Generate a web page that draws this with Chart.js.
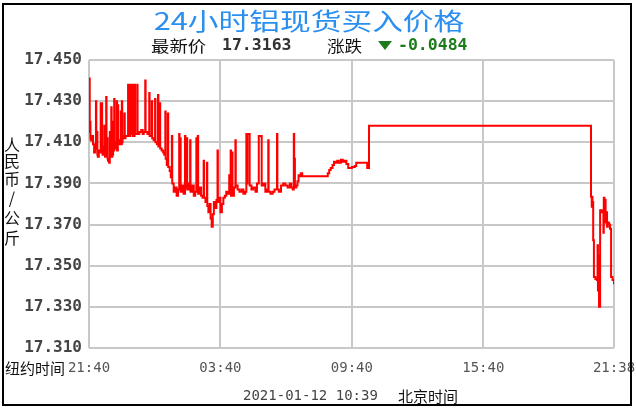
<!DOCTYPE html>
<html>
<head>
<meta charset="utf-8">
<script src="https://cdn.jsdelivr.net/npm/chart.js@4/dist/chart.umd.min.js"></script>
<style>
html, body { margin: 0; padding: 0; background: #fff; }
</style>
</head>
<body>
<canvas id="chart" width="636" height="410"></canvas>
<script>
// minutes after 21:40 (New York time), split into stretches of the day
const nightTimes = [0, 2, 3, 4, 5, 8, 11, 14, 17, 19, 20, 22, 23, 24, 27, 30, 32, 33, 35, 36,
  37, 40, 42, 43, 44, 47, 48, 50, 51, 52, 55, 57, 58, 61, 62, 64, 65, 66, 69, 70,
  73, 76, 77, 79, 80, 84, 87, 88, 90, 91, 92, 95, 97, 98, 100];
const nightPrices = [17.441, 17.415, 17.420, 17.412, 17.411, 17.413, 17.409, 17.405, 17.407, 17.430, 17.407, 17.415, 17.404, 17.403, 17.406, 17.405, 17.429, 17.406, 17.429, 17.405,
  17.404, 17.408, 17.418, 17.404, 17.403, 17.432, 17.405, 17.412, 17.402, 17.401, 17.400, 17.415, 17.404, 17.427, 17.403, 17.420, 17.404, 17.406, 17.431, 17.410,
  17.407, 17.430, 17.406, 17.428, 17.411, 17.409, 17.425, 17.409, 17.430, 17.410, 17.413, 17.412, 17.424, 17.412, 17.413];

const earlyTimes = [107, 108, 109, 110, 111, 112, 113, 114, 116, 117, 119, 120, 122, 123, 125, 126, 130, 132, 133, 138,
  143, 147, 150, 154, 155, 160, 165, 166, 170, 172, 173, 177, 181, 182, 186, 189, 190, 194, 195, 199,
  203, 206, 209, 210, 213, 216, 217, 221, 224, 227, 228, 232, 236, 240, 244, 247, 248, 250, 251, 255,
  259, 263, 264, 268, 269, 273, 277, 278, 282, 287, 291, 294, 295, 298, 299, 303, 307, 311, 314, 315,
  319, 323, 324, 327, 330, 333, 336, 339, 342, 345, 349, 352, 353];
const earlyPrices = [17.438, 17.413, 17.438, 17.414, 17.438, 17.413, 17.438, 17.414, 17.438, 17.414, 17.438, 17.413, 17.438, 17.413, 17.438, 17.414, 17.414, 17.438, 17.414, 17.415,
  17.416, 17.414, 17.415, 17.440, 17.415, 17.414, 17.434, 17.413, 17.413, 17.430, 17.412, 17.411, 17.431, 17.410, 17.409, 17.433, 17.408, 17.429, 17.407, 17.406,
  17.405, 17.404, 17.425, 17.402, 17.399, 17.424, 17.398, 17.396, 17.393, 17.413, 17.390, 17.386, 17.388, 17.384, 17.387, 17.414, 17.387, 17.412, 17.386, 17.389,
  17.385, 17.413, 17.388, 17.412, 17.387, 17.390, 17.411, 17.386, 17.389, 17.384, 17.386, 17.412, 17.386, 17.413, 17.385, 17.388, 17.384, 17.383, 17.401, 17.383,
  17.381, 17.400, 17.379, 17.376, 17.380, 17.373, 17.369, 17.375, 17.381, 17.378, 17.382, 17.406, 17.381];

const dayTimes = [356, 360, 364, 368, 372, 376, 380, 384, 385, 388, 389, 392, 393, 397, 401, 402, 407, 412, 418, 423,
  428, 431, 433, 434, 440, 445, 450, 456, 460, 465, 473, 478, 483, 488, 491, 492, 497, 503, 508, 515,
  516, 520, 526, 532, 538, 544, 550, 554, 558, 561, 562, 564, 568, 571, 574, 577, 580, 584, 650, 654,
  658, 662, 667, 671, 676, 680, 684, 690, 695, 700, 705, 710, 720, 728, 732, 744, 757, 762, 767];
const dayPrices = [17.383, 17.376, 17.380, 17.383, 17.384, 17.386, 17.385, 17.394, 17.385, 17.406, 17.384, 17.405, 17.384, 17.388, 17.411, 17.389, 17.387, 17.386, 17.387, 17.385,
  17.386, 17.414, 17.390, 17.414, 17.389, 17.387, 17.388, 17.386, 17.390, 17.413, 17.389, 17.390, 17.386, 17.387, 17.411, 17.386, 17.385, 17.386, 17.387, 17.414,
  17.387, 17.386, 17.389, 17.390, 17.389, 17.388, 17.390, 17.388, 17.387, 17.414, 17.402, 17.388, 17.389, 17.391, 17.394, 17.3935, 17.395, 17.3935, 17.3935, 17.395,
  17.3965, 17.3975, 17.399, 17.4005, 17.400, 17.401, 17.400, 17.4015, 17.4005, 17.401, 17.3995, 17.3975, 17.398, 17.3985, 17.400, 17.400, 17.400, 17.3975, 17.418];

const lateTimes = [1374, 1375, 1377, 1378, 1379, 1381, 1383, 1387, 1391, 1393, 1394, 1395, 1397, 1399, 1400, 1403, 1407, 1409, 1410, 1412,
  1413, 1415, 1417, 1419, 1421, 1424, 1427, 1430, 1434, 1438];
const latePrices = [17.418, 17.3835, 17.3787, 17.3835, 17.381, 17.3624, 17.3445, 17.3435, 17.343, 17.360, 17.338, 17.355, 17.330, 17.330, 17.377, 17.376, 17.377, 17.366, 17.383, 17.372,
  17.382, 17.371, 17.376, 17.369, 17.371, 17.370, 17.368, 17.3445, 17.343, 17.341];

const xTickPos = [0, 360, 720, 1080, 1438];
const xTickLabels = ['21:40', '03:40', '09:40', '15:40', '21:38'];
const yTicks = [17.310, 17.330, 17.350, 17.370, 17.390, 17.410, 17.430, 17.450];

const titleText = '24小时铝现货买入价格';
const latestLabel = '最新价';
const latestValue = '17.3163';
const changeLabel = '涨跌';
const changeValue = '-0.0484';
const yAxisChars = ['人', '民', '币', '/', '公', '斤'];
const nyLabel = '纽约时间';
const dateText = '2021-01-12 10:39';
const bjLabel = '北京时间';

const CJK = '"Noto Sans CJK SC"';
const MONO = '"DejaVu Sans Mono"';

function putText(ctx, text, x, y, font, color, align, sx) {
  ctx.save();
  ctx.translate(x, y);
  ctx.scale(sx || 1, 1);
  ctx.font = font;
  ctx.fillStyle = color;
  ctx.textAlign = align || 'left';
  ctx.textBaseline = 'middle';
  ctx.fillText(text, 0, 0);
  ctx.restore();
}

const decor = {
  id: 'decor',
  beforeDraw(chart) {
    const ctx = chart.ctx;
    ctx.save();
    ctx.fillStyle = '#fff';
    ctx.fillRect(0, 0, chart.width, chart.height);
    ctx.restore();
  },
  afterDraw(chart) {
    const ctx = chart.ctx;
    // title + latest price line
    putText(ctx, titleText, 309, 21, '24px ' + CJK, '#2b8ff0', 'center', 1.28);
    putText(ctx, latestLabel, 151, 46, '16px ' + CJK, '#111', 'left', 1.15);
    putText(ctx, latestValue, 222, 46, 'bold 15px ' + MONO, '#333', 'left', 1.1);
    putText(ctx, changeLabel, 327, 46, '16px ' + CJK, '#111', 'left', 1.1);
    ctx.save();
    ctx.fillStyle = '#1c7c1c';
    ctx.beginPath();
    ctx.moveTo(378, 41);
    ctx.lineTo(392, 41);
    ctx.lineTo(385, 50);
    ctx.closePath();
    ctx.fill();
    ctx.restore();
    putText(ctx, changeValue, 398, 46, 'bold 15px ' + MONO, '#1c7c1c', 'left', 1.1);

    // vertical unit label
    const ys = [145, 161, 179, 198, 218, 238];
    yAxisChars.forEach((c, i) => putText(ctx, c, 12, ys[i], '16px ' + CJK, '#111', 'center'));

    putText(ctx, nyLabel, 5, 368, '15px ' + CJK, '#111', 'left');
    putText(ctx, dateText, 243, 396, '14px ' + MONO, '#444', 'left');
    putText(ctx, bjLabel, 398, 396, '15px ' + CJK, '#111', 'left');

    // outer frame
    ctx.save();
    ctx.strokeStyle = '#000';
    ctx.lineWidth = 2;
    ctx.strokeRect(3, 4, 628, 401);
    ctx.restore();
  }
};

const times = nightTimes.concat(earlyTimes, dayTimes, lateTimes);
const prices = nightPrices.concat(earlyPrices, dayPrices, latePrices);
const points = times.map((t, i) => ({ x: t, y: prices[i] }));

new Chart(document.getElementById('chart'), {
  type: 'line',
  data: {
    datasets: [{
      data: points,
      borderColor: '#ff0000',
      borderWidth: 2,
      pointRadius: 0,
      stepped: true,
      fill: false
    }]
  },
  options: {
    responsive: false,
    animation: false,
    layout: { padding: { top: 60, right: 22, bottom: 0, left: 0 } },
    plugins: { legend: { display: false }, tooltip: { enabled: false }, title: { display: false } },
    scales: {
      x: {
        type: 'linear',
        min: 0,
        max: 1438,
        afterBuildTicks: s => { s.ticks = xTickPos.map(v => ({ value: v })); },
        afterFit: s => { s.height = 62; s.paddingLeft = 0; s.paddingRight = 0; },
        grid: { color: '#c8c8c8', lineWidth: 2, drawTicks: false },
        border: { display: false },
        ticks: {
          autoSkip: false,
          maxRotation: 0,
          padding: 12,
          color: '#555',
          font: { family: 'DejaVu Sans Mono', size: 14 },
          callback: (v, i) => xTickLabels[i]
        }
      },
      y: {
        min: 17.31,
        max: 17.45,
        afterBuildTicks: s => { s.ticks = yTicks.map(v => ({ value: v })); },
        afterFit: s => { s.width = 89; s.paddingTop = 0; s.paddingBottom = 0; },
        grid: { color: '#c8c8c8', lineWidth: 2, drawTicks: false },
        border: { display: false },
        ticks: {
          padding: 7,
          color: '#444',
          font: { family: 'DejaVu Sans Mono', size: 16, weight: 'bold' },
          callback: v => v.toFixed(3)
        }
      }
    }
  },
  plugins: [decor]
});
</script>
</body>
</html>
